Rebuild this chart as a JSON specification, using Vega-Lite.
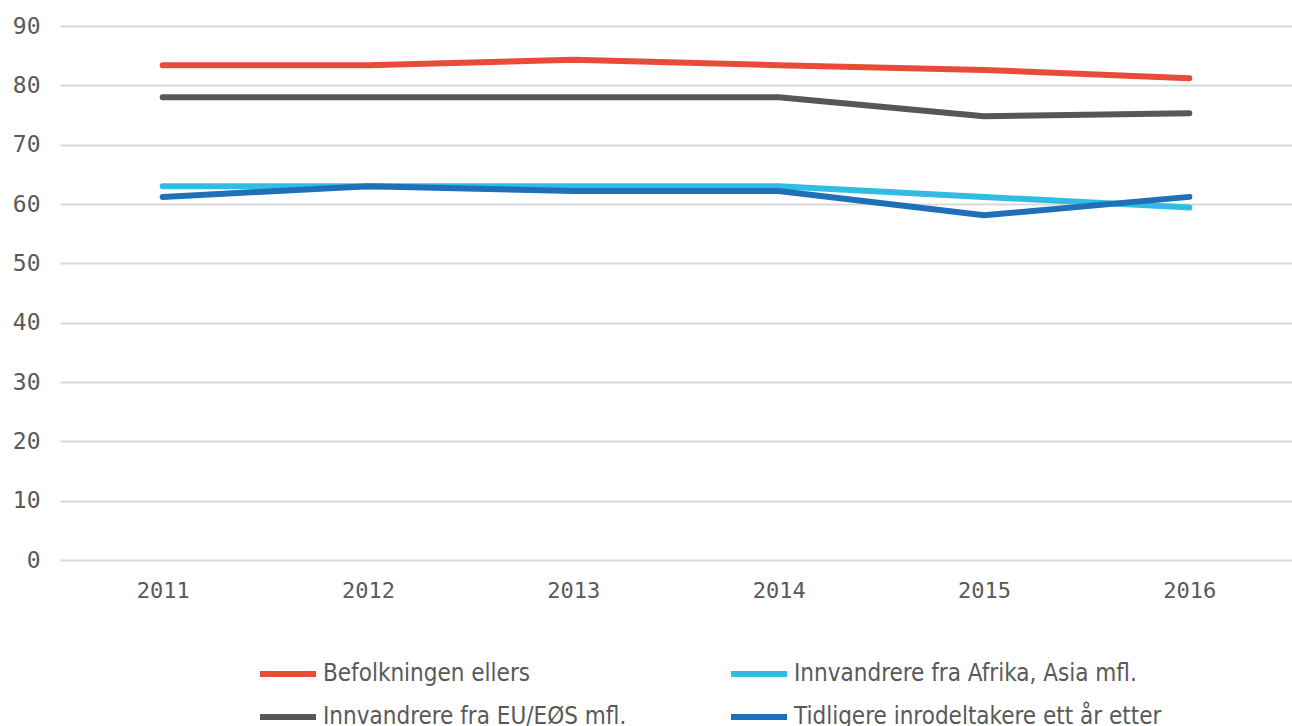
{
  "$schema": "https://vega.github.io/schema/vega-lite/v6.json",
  "width": 1232,
  "height": 534,
  "autosize": {"type": "none"},
  "padding": {"left": 60, "top": 26, "right": 0, "bottom": 166},
  "background": "white",
  "config": {"view": {"stroke": null}},
  "data": {
    "values": [
      {"year": "2011", "series": "Befolkningen ellers", "value": 83.4},
      {"year": "2012", "series": "Befolkningen ellers", "value": 83.4},
      {"year": "2013", "series": "Befolkningen ellers", "value": 84.3},
      {"year": "2014", "series": "Befolkningen ellers", "value": 83.4},
      {"year": "2015", "series": "Befolkningen ellers", "value": 82.6},
      {"year": "2016", "series": "Befolkningen ellers", "value": 81.2},
      {"year": "2011", "series": "Innvandrere fra Afrika, Asia mfl.", "value": 63.0},
      {"year": "2012", "series": "Innvandrere fra Afrika, Asia mfl.", "value": 63.0},
      {"year": "2013", "series": "Innvandrere fra Afrika, Asia mfl.", "value": 63.0},
      {"year": "2014", "series": "Innvandrere fra Afrika, Asia mfl.", "value": 63.0},
      {"year": "2015", "series": "Innvandrere fra Afrika, Asia mfl.", "value": 61.2},
      {"year": "2016", "series": "Innvandrere fra Afrika, Asia mfl.", "value": 59.4},
      {"year": "2011", "series": "Innvandrere fra EU/EØS mfl.", "value": 78.0},
      {"year": "2012", "series": "Innvandrere fra EU/EØS mfl.", "value": 78.0},
      {"year": "2013", "series": "Innvandrere fra EU/EØS mfl.", "value": 78.0},
      {"year": "2014", "series": "Innvandrere fra EU/EØS mfl.", "value": 78.0},
      {"year": "2015", "series": "Innvandrere fra EU/EØS mfl.", "value": 74.8},
      {"year": "2016", "series": "Innvandrere fra EU/EØS mfl.", "value": 75.3},
      {"year": "2011", "series": "Tidligere inrodeltakere ett år etter", "value": 61.2},
      {"year": "2012", "series": "Tidligere inrodeltakere ett år etter", "value": 63.0},
      {"year": "2013", "series": "Tidligere inrodeltakere ett år etter", "value": 62.2},
      {"year": "2014", "series": "Tidligere inrodeltakere ett år etter", "value": 62.2},
      {"year": "2015", "series": "Tidligere inrodeltakere ett år etter", "value": 58.1},
      {"year": "2016", "series": "Tidligere inrodeltakere ett år etter", "value": 61.2}
    ]
  },
  "mark": {"type": "line", "strokeWidth": 6, "strokeCap": "round", "strokeJoin": "round"},
  "encoding": {
    "x": {
      "field": "year",
      "type": "ordinal",
      "scale": {"type": "point", "padding": 0.5},
      "axis": {
        "title": null,
        "domain": false,
        "ticks": false,
        "labelAngle": 0,
        "labelFont": "DejaVu Sans Mono",
        "labelFontSize": 22,
        "labelColor": "#595959",
        "labelPadding": 20
      }
    },
    "y": {
      "field": "value",
      "type": "quantitative",
      "scale": {"domain": [0, 90]},
      "axis": {
        "title": null,
        "values": [0, 10, 20, 30, 40, 50, 60, 70, 80, 90],
        "domain": false,
        "ticks": false,
        "gridColor": "#d9d9d9",
        "gridWidth": 2,
        "labelFont": "DejaVu Sans Mono",
        "labelFontSize": 23,
        "labelColor": "#595959",
        "labelPadding": 20
      }
    },
    "color": {
      "field": "series",
      "type": "nominal",
      "scale": {
        "domain": ["Befolkningen ellers", "Innvandrere fra Afrika, Asia mfl.", "Innvandrere fra EU/EØS mfl.", "Tidligere inrodeltakere ett år etter"],
        "range": ["#E84B37", "#31BCE3", "#575757", "#1F70B8"]
      },
      "legend": {
        "title": null,
        "orient": "none",
        "legendX": 197,
        "legendY": 617,
        "direction": "horizontal",
        "columns": 2,
        "symbolType": "M-1,0L1,0",
        "symbolSize": 3136,
        "symbolStrokeWidth": 6,
        "symbolStrokeCap": "round",
        "labelFont": "DejaVu Sans Condensed",
        "labelFontSize": 24,
        "labelColor": "#595959",
        "labelOffset": 4,
        "labelLimit": 500,
        "columnPadding": 92,
        "rowPadding": 0
      }
    }
  }
}
